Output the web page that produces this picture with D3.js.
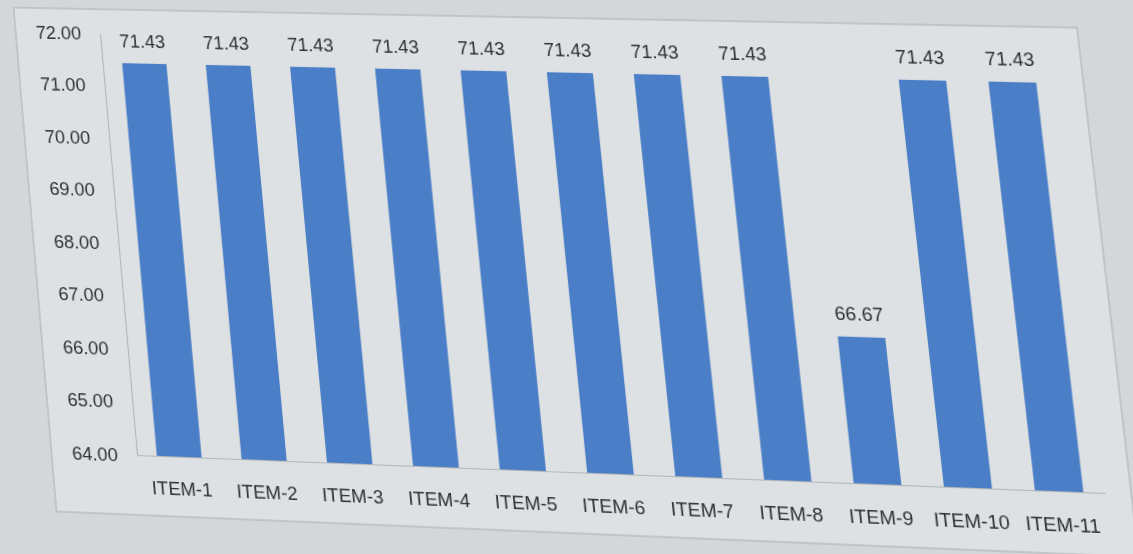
<!DOCTYPE html>
<html>
<head>
<meta charset="utf-8">
<script src="https://cdn.jsdelivr.net/npm/d3@7"></script>
<style>
  html, body { margin: 0; padding: 0; background: #d3d7da; overflow: hidden; }
  svg { display: block; transform-origin: 0 0; }
  text { font-family: "Liberation Sans", Arial, sans-serif; fill: #2f3134; }
</style>
</head>
<body>
<svg id="chart" width="1133" height="554"></svg>
<script>
// data
const categories = ["ITEM-1", "ITEM-2", "ITEM-3", "ITEM-4", "ITEM-5", "ITEM-6",
                    "ITEM-7", "ITEM-8", "ITEM-9", "ITEM-10", "ITEM-11"]
const values = [71.43, 71.43, 71.43, 71.43, 71.43, 71.43, 71.43, 71.43, 66.67, 71.43, 71.43]
const yTicks = [64, 65, 66, 67, 68, 69, 70, 71, 72]

// solve the 3x3 homography that sends 4 src points onto 4 dst points
function homography(src, dst){
    let A = [], b = []
    for (let i = 0; i < 4; i++){
        let [x, y] = src[i], [u, v] = dst[i]
        A.push([x, y, 1, 0, 0, 0, -u * x, -u * y]); b.push(u)
        A.push([0, 0, 0, x, y, 1, -v * x, -v * y]); b.push(v)
    }
    let n = 8
    for (let c = 0; c < n; c++){
        let p = c
        for (let r = c + 1; r < n; r++) if (Math.abs(A[r][c]) > Math.abs(A[p][c])) p = r
        ;[A[c], A[p]] = [A[p], A[c]]; [b[c], b[p]] = [b[p], b[c]]
        for (let r = 0; r < n; r++){
            if (r === c) continue
            let f = A[r][c] / A[c][c]
            for (let k = c; k < n; k++) A[r][k] -= f * A[c][k]
            b[r] -= f * b[c]
        }
    }
    let h = b.map((v, i) => v / A[i][i])
    h.push(1)
    return h
}

function main(){
    const plot = {left: 100, right: 1060, top: 35, bottom: 455}
    const svg = d3.select('#chart')

    // chart box
    svg.append('rect')
        .attr('x', 11).attr('y', 11)
        .attr('width', 1074).attr('height', 503)
        .attr('fill', '#dee1e3')
        .attr('stroke', '#b9bdc0')
        .attr('stroke-width', 1.5)

    const x = d3.scaleBand()
        .domain(categories)
        .range([plot.left, plot.right])
        .paddingInner(0.47)
        .paddingOuter(0.235)

    const y = d3.scaleLinear()
        .domain([64, 72])
        .range([plot.bottom, plot.top])

    // bars
    svg.append('g')
        .attr('fill', '#4a7ec6')
        .selectAll('rect')
        .data(values)
        .join('rect')
            .attr('x', (d, i) => x(categories[i]))
            .attr('y', d => y(d))
            .attr('width', x.bandwidth())
            .attr('height', d => y(64) - y(d))

    // value labels
    svg.append('g')
        .selectAll('text')
        .data(values)
        .join('text')
            .attr('x', (d, i) => x(categories[i]) + x.bandwidth() / 2)
            .attr('y', d => y(d) - 16)
            .attr('text-anchor', 'middle')
            .attr('font-size', 19)
            .text(d => d.toFixed(2))

    // y axis
    const yAxis = svg.append('g')
        .attr('transform', `translate(${plot.left},0)`)
        .call(d3.axisLeft(y).tickValues(yTicks).tickFormat(d3.format('.2f')).tickSize(0).tickPadding(20))
    yAxis.select('.domain').attr('stroke', '#b3b7ba').attr('stroke-width', 1.2)
    yAxis.selectAll('text').attr('font-size', 19).attr('fill', null)

    // x axis
    const xAxis = svg.append('g')
        .attr('transform', `translate(0,${plot.bottom})`)
        .call(d3.axisBottom(x).tickSize(0).tickSizeOuter(0).tickPadding(25))
    xAxis.select('.domain').attr('stroke', '#b3b7ba').attr('stroke-width', 1.2)
    xAxis.selectAll('text').attr('font-size', 19).attr('fill', null)
    xAxis.attr('font-family', null)
    yAxis.attr('font-family', null)

    // the reference is a photo of a screen: tilt the flat chart the same way
    const h = homography(
        [[plot.left, plot.top], [plot.right, plot.top], [plot.left, plot.bottom], [plot.right, plot.bottom]],
        [[100, 33], [1054, 52], [137, 455], [1105, 493]]
    )
    svg.style('transform', `matrix3d(${h[0]},${h[3]},0,${h[6]},${h[1]},${h[4]},0,${h[7]},0,0,1,0,${h[2]},${h[5]},0,${h[8]})`)
}

main()
</script>
</body>
</html>
